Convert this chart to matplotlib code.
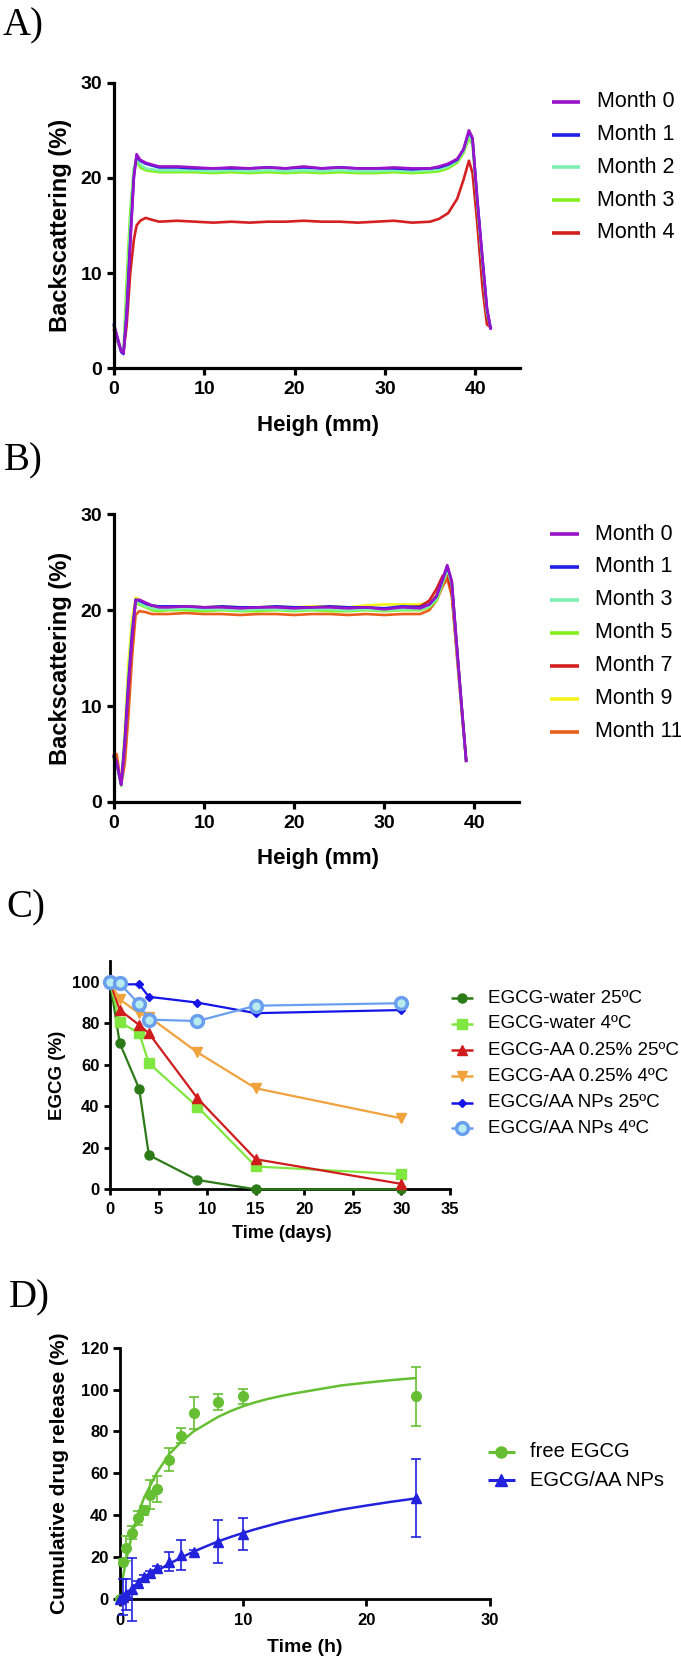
import matplotlib
matplotlib.use("Agg")
import matplotlib.pyplot as plt
from matplotlib.lines import Line2D

plt.rcParams['font.family'] = ['Liberation Sans', 'DejaVu Sans']

W, H = 681, 1662

# ---------------- Panel A data ----------------
a_x = [0, 0.4, 0.8, 1.05, 1.4, 1.8, 2.2, 2.5, 2.9, 3.5, 4.2,
       5, 7, 9, 11, 13, 15, 17, 19, 21, 23, 25, 27, 29, 31, 33, 35,
       36, 37, 38, 38.7, 39.3, 39.7, 40.2, 40.8, 41.3, 41.7]
a_labels = ["Month 0", "Month 1", "Month 2", "Month 3", "Month 4"]
a_m0 = [4.6, 3.2, 1.8, 1.6, 5.5, 13.0, 20.0, 22.5, 21.9, 21.6, 21.4,
        21.2, 21.2, 21.1, 21.0, 21.1, 21.0, 21.1, 21.0, 21.2, 21.0, 21.1, 21.0, 21.0, 21.1, 21.0, 21.0,
        21.2, 21.5, 22.0, 23.0, 25.0, 24.2, 18.0, 11.5, 6.3, 4.2]
a_m1 = [4.5, 3.1, 1.7, 1.5, 5.8, 13.5, 20.2, 22.3, 21.8, 21.5, 21.3,
        21.1, 21.1, 21.0, 21.0, 21.0, 21.0, 21.1, 21.0, 21.1, 21.0, 21.1, 21.0, 21.0, 21.0, 20.9, 21.0,
        21.1, 21.4, 21.9, 23.0, 24.9, 24.1, 18.0, 11.5, 6.2, 4.2]
a_m2 = [4.4, 3.0, 1.8, 1.7, 7.0, 15.0, 21.0, 22.0, 21.4, 21.0, 20.9,
        20.8, 20.8, 20.8, 20.7, 20.8, 20.7, 20.8, 20.7, 20.8, 20.7, 20.8, 20.7, 20.7, 20.8, 20.7, 20.8,
        20.9, 21.2, 21.8, 22.8, 24.6, 23.8, 17.8, 11.2, 6.0, 4.3]
a_m3 = [4.3, 3.0, 1.8, 1.8, 9.0, 16.5, 21.0, 21.8, 21.1, 20.8, 20.7,
        20.6, 20.6, 20.6, 20.5, 20.6, 20.5, 20.6, 20.5, 20.6, 20.5, 20.6, 20.5, 20.5, 20.6, 20.5, 20.6,
        20.7, 21.0, 21.6, 22.6, 24.2, 23.5, 17.5, 11.0, 5.8, 4.3]
a_m4 = [4.0, 2.8, 1.8, 1.7, 4.5, 10.0, 13.5, 15.0, 15.5, 15.8, 15.6,
        15.4, 15.5, 15.4, 15.3, 15.4, 15.3, 15.4, 15.4, 15.5, 15.4, 15.4, 15.3, 15.4, 15.5, 15.3, 15.4,
        15.7, 16.3, 17.8, 19.8, 21.8, 20.5, 15.5, 8.5, 4.6, 4.3]
a_colors = ['#9a12c9', '#1f1fe8', '#7ff0b4', '#84f01e', '#d42020']

# ---------------- Panel B data ----------------
b_x = [0, 0.3, 0.8, 1.2, 1.6, 2.0, 2.4, 2.8, 3.5, 4.2, 5,
       6, 8, 10, 12, 14, 16, 18, 20, 22, 24, 26, 28, 30, 32, 34,
       35, 35.8, 36.5, 37.0, 37.5, 38.0, 38.6, 39.1]
b_labels = ["Month 0", "Month 1", "Month 3", "Month 5", "Month 7", "Month 9", "Month 11"]
b_m0 = [4.8, 4.2, 1.8, 6.0, 12.0, 17.0, 21.0, 21.1, 20.8, 20.5, 20.3,
        20.3, 20.4, 20.3, 20.3, 20.2, 20.3, 20.3, 20.2, 20.3, 20.3, 20.2, 20.3, 20.1, 20.3, 20.2,
        20.6, 21.5, 23.3, 24.7, 23.0, 17.0, 10.0, 4.3]
b_m1 = [4.7, 4.1, 1.8, 6.5, 12.5, 17.5, 21.1, 21.0, 20.7, 20.5, 20.4,
        20.4, 20.4, 20.3, 20.4, 20.3, 20.3, 20.4, 20.3, 20.3, 20.4, 20.3, 20.3, 20.2, 20.4, 20.3,
        20.6, 21.4, 23.2, 24.6, 23.0, 17.0, 10.0, 4.3]
b_m3 = [4.6, 4.0, 1.8, 6.5, 13.0, 18.0, 20.9, 20.8, 20.4, 20.2, 20.1,
        20.1, 20.2, 20.1, 20.1, 20.0, 20.1, 20.1, 20.0, 20.1, 20.1, 20.0, 20.1, 20.0, 20.1, 20.1,
        20.4, 21.2, 23.0, 24.3, 22.8, 16.8, 9.8, 4.3]
b_m5 = [4.5, 3.9, 1.7, 6.0, 12.5, 17.5, 20.8, 20.6, 20.3, 20.0, 19.9,
        20.0, 20.0, 19.9, 20.0, 19.9, 19.9, 20.0, 19.9, 20.0, 19.9, 19.9, 20.0, 19.9, 20.0, 20.0,
        20.3, 21.0, 22.8, 24.2, 22.7, 16.7, 9.7, 4.3]
b_m7 = [4.6, 4.0, 1.9, 5.5, 11.5, 17.0, 20.8, 21.0, 20.6, 20.3, 20.1,
        20.1, 20.2, 20.1, 20.1, 20.0, 20.1, 20.1, 20.0, 20.1, 20.1, 20.0, 20.1, 20.1, 20.3, 20.4,
        21.0, 22.2, 23.6, 23.8, 22.0, 16.5, 9.8, 4.3]
b_m9 = [4.7, 4.0, 1.9, 7.5, 14.5, 19.0, 21.3, 21.1, 20.7, 20.5, 20.4,
        20.4, 20.4, 20.3, 20.4, 20.3, 20.3, 20.4, 20.3, 20.4, 20.4, 20.3, 20.5, 20.6, 20.6, 20.6,
        20.8, 21.6, 23.2, 24.5, 23.0, 17.0, 10.0, 4.3]
b_m11 = [4.9, 5.0, 1.8, 4.0, 9.0, 15.0, 19.5, 19.9, 19.8, 19.6, 19.6,
         19.6, 19.7, 19.6, 19.6, 19.5, 19.6, 19.6, 19.5, 19.6, 19.6, 19.5, 19.6, 19.5, 19.6, 19.6,
         20.0, 21.0, 22.5, 23.3, 21.5, 16.0, 9.5, 4.3]
b_colors = ['#9a12c9', '#1f1fe8', '#7ff0b4', '#84f01e', '#d42020', '#f4f41c', '#e8601c']

# ---------------- Panel C data ----------------
c_days = [0, 1, 3, 4, 9, 15, 30]
c_labels = ["EGCG-water 25ºC", "EGCG-water 4ºC", "EGCG-AA 0.25% 25ºC",
            "EGCG-AA 0.25% 4ºC", "EGCG/AA NPs 25ºC", "EGCG/AA NPs 4ºC"]
c_water25 = [100, 70.5, 48.5, 16.5, 4.5, 0, 0]
c_water4 = [100, 80.5, 75.3, 60.8, 39.8, 11.0, 7.3]
c_aa25 = [100, 86.5, 79.2, 75.2, 43.9, 14.5, 2.6]
c_aa4 = [100, 91.6, 84.8, 83.2, 66.0, 48.7, 34.2]
c_np25 = [100, 98.8, 98.8, 92.8, 90.0, 84.9, 86.4]
c_np4 = [100, 99.3, 89.2, 81.8, 81.1, 88.5, 89.7]

# ---------------- Panel D data ----------------
d_time = [0, 0.25, 0.5, 1, 1.5, 2, 2.5, 3, 4, 5, 6, 8, 10, 24]
d_labels = ["free EGCG", "EGCG/AA NPs"]
d_free = [0, 17.8, 24.2, 31.7, 38.6, 42.3, 49.8, 52.5, 66.5, 78.0, 88.8, 94.1, 96.8, 96.8]
d_free_sd = [0.5, 1.5, 6.0, 3.0, 3.5, 2.0, 7.0, 6.3, 5.5, 3.5, 7.5, 4.0, 3.5, 14.2]
d_np = [0, 1.0, 2.2, 4.6, 7.5, 10.4, 12.3, 14.7, 17.9, 21.0, 22.6, 27.4, 31.1, 48.2]
d_np_sd = [0.5, 8.5, 7.3, 15.0, 1.0, 1.0, 1.0, 1.0, 4.7, 7.2, 1.0, 10.4, 7.8, 18.6]
d_fit_t = [0, 0.25, 0.5, 1, 1.5, 2, 3, 4, 5, 6, 7, 8, 9, 10, 11, 12, 13, 14, 16, 18, 20, 22, 24]
d_fit_free = [0, 9.5, 17.5, 30.5, 40.5, 48.5, 60.0, 69.0, 75.0, 80.0, 83.5, 87.0, 89.7, 92.0,
              93.9, 95.5, 96.8, 98.0, 100.0, 102.0, 103.3, 104.5, 105.5]
d_fit_np = [0, 1.3, 2.6, 5.0, 7.3, 9.4, 13.3, 16.7, 19.8, 22.6, 25.1, 27.5, 29.6, 31.5,
            33.3, 34.9, 36.5, 37.9, 40.4, 42.7, 44.6, 46.4, 48.0]

fig = plt.figure(figsize=(W / 100, H / 100), dpi=100)


def add_ax(left, top, right, bottom):
    return fig.add_axes([left / W, 1 - bottom / H, (right - left) / W, (bottom - top) / H])


def style(ax, lw, tick_fs, ticklen, xpad, ypad):
    for s in ['top', 'right']:
        ax.spines[s].set_visible(False)
    for s in ['left', 'bottom']:
        ax.spines[s].set_linewidth(lw)
        ax.spines[s].set_color('black')
    ax.tick_params(axis='both', direction='out', length=ticklen, width=lw, colors='black',
                   labelsize=tick_fs)
    ax.tick_params(axis='x', pad=xpad)
    ax.tick_params(axis='y', pad=ypad)
    for lab in ax.get_xticklabels() + ax.get_yticklabels():
        lab.set_fontweight('bold')


def ftext(x, y, s, **kw):
    fig.text(x / W, 1 - y / H, s, **kw)


def legend_line(x0, x1, y, color, lw, marker=None, ms=0, mfc=None, mec=None, mew=1):
    fig.add_artist(Line2D([x0 / W, x1 / W], [1 - y / H, 1 - y / H], transform=fig.transFigure,
                          color=color, lw=lw, solid_capstyle='butt'))
    if marker:
        xm = (x0 + x1) / 2
        fig.add_artist(Line2D([xm / W], [1 - y / H], transform=fig.transFigure, color=color,
                              marker=marker, ms=ms, mfc=mfc or color, mec=mec or color, mew=mew,
                              lw=0))


# ---------------- Panel A ----------------
axA = add_ax(114, 82.7, 520.4, 368.3)
a_series = [a_m0, a_m1, a_m2, a_m3, a_m4]
for ys, c in reversed(list(zip(a_series, a_colors))):
    axA.plot(a_x, ys, color=c, lw=1.9, clip_on=False)
axA.set_xlim(0, 45)
axA.set_ylim(0, 30)
axA.set_xticks([0, 10, 20, 30, 40])
axA.set_yticks([0, 10, 20, 30])
style(axA, 2.3, 14, 5, 4.5, 3.5)
ftext(61, 225.5, "Backscattering (%)", rotation=90, ha='center', va='center',
      fontsize=17, fontweight='bold')
ftext(318, 425, "Heigh (mm)", ha='center', va='center', fontsize=16, fontweight='bold')
ftext(3, 35, "A)", family='Liberation Serif', fontsize=28, va='baseline', ha='left')
for i, (lab, c) in enumerate(zip(a_labels, a_colors)):
    y = 101.7 + i * 32.8
    legend_line(552, 580, y, c, 2.6)
    ftext(597, y, lab, ha='left', va='center', fontsize=15.5)

# ---------------- Panel B ----------------
axB = add_ax(114, 514.3, 519.3, 802)
b_series = [b_m0, b_m1, b_m3, b_m5, b_m7, b_m9, b_m11]
for ys, c in reversed(list(zip(b_series, b_colors))):
    axB.plot(b_x, ys, color=c, lw=1.9, clip_on=False)
axB.set_xlim(0, 45)
axB.set_ylim(0, 30)
axB.set_xticks([0, 10, 20, 30, 40])
axB.set_yticks([0, 10, 20, 30])
style(axB, 2.3, 14, 5, 4.5, 3.5)
ftext(61, 658, "Backscattering (%)", rotation=90, ha='center', va='center',
      fontsize=17, fontweight='bold')
ftext(318, 858.5, "Heigh (mm)", ha='center', va='center', fontsize=16, fontweight='bold')
ftext(4, 470, "B)", family='Liberation Serif', fontsize=28, va='baseline', ha='left')
for i, (lab, c) in enumerate(zip(b_labels, b_colors)):
    y = 534 + i * 32.95
    legend_line(550, 579, y, c, 2.6)
    ftext(595, y, lab, ha='left', va='center', fontsize=15.5)

# ---------------- Panel C ----------------
axC = add_ax(110, 961.1, 450, 1189.3)
c_series = [c_water25, c_water4, c_aa25, c_aa4, c_np25, c_np4]
c_styles = [
    dict(color='#2d7a19', marker='o', ms=6.5, mfc='#2d7a19', mec='#2d7a19', mew=1),
    dict(color='#80e640', marker='s', ms=7, mfc='#80e640', mec='#80e640', mew=1),
    dict(color='#d01c1c', marker='^', ms=7, mfc='#d01c1c', mec='#d01c1c', mew=1),
    dict(color='#f0a23c', marker='v', ms=7, mfc='#f0a23c', mec='#f0a23c', mew=1),
    dict(color='#1414e6', marker='D', ms=4.5, mfc='#1414e6', mec='#1414e6', mew=1),
    dict(color='#6a9ff0', marker='o', ms=8.5, mfc='#b8ecee', mec='#6a9ff0', mew=2.5),
]
for ys, st in zip(c_series, c_styles):
    axC.plot(c_days, ys, lw=1.6, clip_on=False, zorder=3, **st)
axC.set_xlim(0, 35)
axC.set_ylim(0, 110)
axC.set_xticks([0, 5, 10, 15, 20, 25, 30, 35])
axC.set_yticks([0, 20, 40, 60, 80, 100])
style(axC, 2.0, 12, 4.5, 4.5, 3)
ftext(57.5, 1075, "EGCG (%)", rotation=90, ha='center', va='center',
      fontsize=13.5, fontweight='bold')
ftext(282, 1233, "Time (days)", ha='center', va='center', fontsize=13, fontweight='bold')
ftext(6, 917, "C)", family='Liberation Serif', fontsize=28, va='baseline', ha='left')
c_rows = [998.3, 1023.6, 1050.3, 1076.3, 1102.6, 1128.3]
for lab, st, y in zip(c_labels, c_styles, c_rows):
    legend_line(451, 473, y, st['color'], 1.8, marker=st['marker'], ms=st['ms'],
                mfc=st['mfc'], mec=st['mec'], mew=st['mew'])
    ftext(488, y, lab, ha='left', va='center', fontsize=13.5)

# ---------------- Panel D ----------------
axD = add_ax(119.5, 1347.7, 489.5, 1599)
green = '#66bf33'
blue = '#2222dd'
axD.plot(d_fit_t, d_fit_free, color=green, lw=1.8, zorder=2)
axD.plot(d_fit_t, d_fit_np, color=blue, lw=1.8, zorder=2)
axD.errorbar(d_time, d_free, yerr=d_free_sd, fmt='o', color=green, ms=7, capsize=3.5,
             elinewidth=1.2, capthick=1.2, zorder=3, clip_on=False)
axD.errorbar(d_time, d_np, yerr=d_np_sd, fmt='^', color=blue, ms=7, capsize=3.5,
             elinewidth=1.2, capthick=1.2, zorder=3, clip_on=False)
axD.set_xlim(0, 30)
axD.set_ylim(0, 120)
axD.set_xticks([0, 10, 20, 30])
axD.set_yticks([0, 20, 40, 60, 80, 100, 120])
style(axD, 2.0, 12, 5, 5, 3)
ftext(60, 1473, "Cumulative drug release (%)", rotation=90, ha='center', va='center',
      fontsize=15, fontweight='bold')
ftext(305, 1647, "Time (h)", ha='center', va='center', fontsize=14, fontweight='bold')
ftext(9, 1307, "D)", family='Liberation Serif', fontsize=28, va='baseline', ha='left')
legend_line(488, 515, 1451.7, green, 2.2, marker='o', ms=8)
ftext(530, 1451.7, d_labels[0], ha='left', va='center', fontsize=14.5)
legend_line(488, 515, 1480, blue, 2.2, marker='^', ms=8)
ftext(530, 1480, d_labels[1], ha='left', va='center', fontsize=14.5)

fig.savefig("out.png", dpi=100, facecolor='white')
